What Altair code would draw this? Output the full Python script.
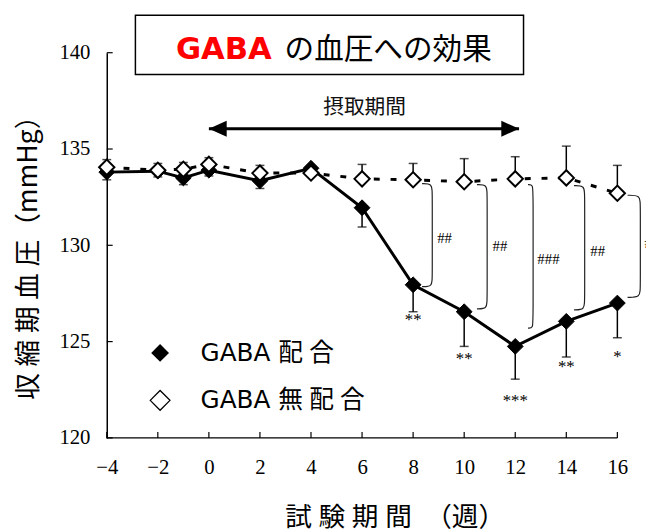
import altair as alt
import pandas as pd

# ---------------- data ----------------
weeks = [-4, -2, -1, 0, 2, 4, 6, 8, 10, 12, 14, 16]
gaba_mean = [133.8, 133.85, 133.5, 133.9, 133.35, 134.0, 131.95, 127.95, 126.55, 124.75, 126.05, 127.0]
gaba_se = [0.4, 0.3, 0.35, 0.3, 0.4, 0.3, 1.0, 1.4, 1.8, 1.7, 1.85, 1.8]
ctrl_mean = [134.05, 133.9, 133.95, 134.2, 133.75, 133.75, 133.45, 133.4, 133.3, 133.45, 133.5, 132.7]
ctrl_se = [0.4, 0.35, 0.35, 0.35, 0.4, 0.3, 0.75, 0.85, 1.2, 1.15, 1.65, 1.45]

sig_weeks = [8, 10, 12, 14, 16]
star_text = ["**", "**", "***", "**", "*"]
star_val = [126.1, 124.1, 121.9, 123.7, 124.2]
hash_text = ["##", "##", "###", "##", "##"]
hash_week = [9.23, 11.4, 13.3, 15.23, 17.35]
hash_val = [130.35, 129.95, 129.3, 129.7, 130.1]
br_start = [8.35, 10.5, 12.5, 14.3, 16.4]
br_vert = [8.75, 10.9, 12.7, 14.72, 16.9]
br_top = [133.2, 133.15, 133.15, 133.1, 132.6]
br_bottom = [127.85, 126.7, 125.7, 126.65, 127.3]

x_ticks = [-4, -2, 0, 2, 4, 6, 8, 10, 12, 14, 16]
y_ticks = [120, 125, 130, 135, 140]
intake_weeks = [0, 12.15]
intake_level = 136.05
intake_label_week = 6.1
intake_label_level = 137.1

title_main = "GABA"
title_rest = "の血圧への効果"
intake_label = "摂取期間"
legend_labels = ["GABA 配\u2005合", "GABA 無\u2005配\u2005合"]
y_title = "収\u2005縮\u2005期\u2005血\u2005圧（mmHg）"
x_title = "試\u2005験\u2005期\u2005間　（週）"

# ---------------- layout ----------------
PLOT_W, PLOT_H = 546, 390
X_MIN, X_AXIS_MAX = -4, 16
Y_MIN, Y_MAX = 120, 140
px_per_week = 517 / 20
x_dom_max = X_MIN + PLOT_W / px_per_week
px_per_unit = PLOT_H / (Y_MAX - Y_MIN)
TICK = 6

SERIF = "Liberation Serif"
SANS = "DejaVu Sans, Noto Sans CJK JP"
CJK = "Noto Sans CJK JP"

xs = alt.Scale(domain=[X_MIN, x_dom_max], nice=False, zero=False)
ys = alt.Scale(domain=[Y_MIN, Y_MAX], nice=False, zero=False)

X = alt.X("week:Q", scale=xs,
          axis=alt.Axis(values=x_ticks, title=None, domain=False, ticks=False, tickSize=0,
                        grid=False, labelFont=SERIF, labelFontSize=21, labelColor="black",
                        labelPadding=19, labelFlush=False, labelOverlap=False))
Y = alt.Y("val:Q", scale=ys,
          axis=alt.Axis(values=y_ticks, title=None, domain=True, domainColor="black",
                        domainWidth=1.5, ticks=False, tickSize=0, grid=False,
                        labelFont=SERIF, labelFontSize=21, labelColor="black",
                        labelPadding=17, labelFlush=False, labelOverlap=False))
X2 = alt.X2("week2:Q")
Y2 = alt.Y2("val2:Q")

g = pd.DataFrame({"week": weeks, "val": gaba_mean,
                  "val2": [m - s for m, s in zip(gaba_mean, gaba_se)]})
c = pd.DataFrame({"week": weeks, "val": ctrl_mean,
                  "val2": [m + s for m, s in zip(ctrl_mean, ctrl_se)]})
g_caps = pd.DataFrame({"week": weeks, "val": [m - s for m, s in zip(gaba_mean, gaba_se)]})
c_caps = pd.DataFrame({"week": weeks, "val": [m + s for m, s in zip(ctrl_mean, ctrl_se)]})

# error bars
g_stem = alt.Chart(g).mark_rule(color="black", strokeWidth=1.5).encode(x=X, y=Y, y2=Y2)
g_cap = alt.Chart(g_caps).mark_tick(orient="horizontal", color="black", size=9, thickness=1.5).encode(x=X, y=Y)
c_stem = alt.Chart(c).mark_rule(color="black", strokeWidth=1.5).encode(x=X, y=Y, y2=Y2)
c_cap = alt.Chart(c_caps).mark_tick(orient="horizontal", color="black", size=9, thickness=1.5).encode(x=X, y=Y)

# lines
g_line = alt.Chart(g).mark_line(color="black", strokeWidth=3).encode(x=X, y=Y)
c_line = alt.Chart(c).mark_line(color="black", strokeWidth=3, strokeDash=[6, 11]).encode(x=X, y=Y)

# points
g_pts = alt.Chart(g).mark_point(shape="diamond", filled=True, fill="black", stroke="black",
                                strokeWidth=1, size=256, opacity=1).encode(x=X, y=Y)
c_pts = alt.Chart(c).mark_point(shape="diamond", filled=True, fill="white", stroke="black",
                                strokeWidth=2, size=240, opacity=1).encode(x=X, y=Y)

# brackets
br_rows = []
for i, w in enumerate(sig_weeks):
    x0, xv, t, b = br_start[i], br_vert[i], br_top[i], br_bottom[i]
    pts = [(x0, t), (xv, t), (xv, t - 0.5), (xv, b + 0.5), (xv, b), (x0, b)]
    for k, (px, py) in enumerate(pts):
        br_rows.append({"grp": w, "order": k, "week": px, "val": py})
br = pd.DataFrame(br_rows)
brackets = alt.Chart(br).mark_line(color="#222222", strokeWidth=1.2, interpolate="basis").encode(
    x=X, y=Y, detail="grp:N", order="order:Q")

stars = alt.Chart(pd.DataFrame({"week": sig_weeks, "val": star_val, "t": star_text})).mark_text(
    font=SERIF, fontSize=17, color="black", baseline="middle", align="center").encode(
    x=X, y=Y, text="t:N")
hashes = alt.Chart(pd.DataFrame({"week": hash_week, "val": hash_val, "t": hash_text})).mark_text(
    font=SERIF, fontSize=15, color="black", baseline="middle", align="center").encode(
    x=X, y=Y, text="t:N")

# intake period arrow
arrow_df = pd.DataFrame({"week": [intake_weeks[0]], "week2": [intake_weeks[1]], "val": [intake_level]})
arrow = alt.Chart(arrow_df).mark_rule(color="black", strokeWidth=3).encode(x=X, x2=X2, y=Y)
head_l = alt.Chart(pd.DataFrame({"week": [intake_weeks[0]], "val": [intake_level]})).mark_point(
    shape="M0,0L2,-0.9L2,0.9Z", filled=True, fill="black", strokeWidth=0, size=324, opacity=1).encode(x=X, y=Y)
head_r = alt.Chart(pd.DataFrame({"week": [intake_weeks[1]], "val": [intake_level]})).mark_point(
    shape="M0,0L-2,-0.9L-2,0.9Z", filled=True, fill="black", strokeWidth=0, size=324, opacity=1).encode(x=X, y=Y)
intake_txt = alt.Chart(pd.DataFrame({"week": [intake_label_week], "val": [intake_label_level], "t": [intake_label]})).mark_text(
    font=CJK, fontSize=21, color="#111111", baseline="middle", align="center").encode(x=X, y=Y, text="t:N")

# axis line and inward ticks
one = pd.DataFrame({"k": [0]})
xaxis_line = alt.Chart(pd.DataFrame({"week": [X_MIN], "week2": [X_AXIS_MAX], "val": [Y_MIN]})).mark_rule(
    color="black", strokeWidth=1.5).encode(x=X, x2=X2, y=Y)
xt = pd.DataFrame({"week": x_ticks, "val": [Y_MIN] * len(x_ticks),
                   "val2": [Y_MIN + TICK / px_per_unit] * len(x_ticks)})
xticks = alt.Chart(xt).mark_rule(color="black", strokeWidth=1.2).encode(x=X, y=Y, y2=Y2)
yt = pd.DataFrame({"week": [X_MIN] * len(y_ticks), "week2": [X_MIN + TICK / px_per_week] * len(y_ticks),
                   "val": y_ticks})
yticks = alt.Chart(yt).mark_rule(color="black", strokeWidth=1.2).encode(x=X, x2=X2, y=Y)

# axis titles
ytitle = alt.Chart(pd.DataFrame({"t": [y_title]})).mark_text(
    font=CJK, fontSize=27, angle=270, color="black", align="center", baseline="middle").encode(
    x=alt.value(-79), y=alt.value(201), text="t:N")
xtitle = alt.Chart(pd.DataFrame({"t": [x_title]})).mark_text(
    font=CJK, fontSize=27, color="black", align="center", baseline="middle").encode(
    x=alt.value(292), y=alt.value(471), text="t:N")

# title box
tbox = alt.Chart(one).mark_rect(fill="white", stroke="black", strokeWidth=1.5).encode(
    x=alt.value(29), x2=alt.value(422), y=alt.value(-38), y2=alt.value(22))
t1 = alt.Chart(pd.DataFrame({"t": [title_main]})).mark_text(
    font="DejaVu Sans", fontSize=31, fontWeight="bold", color="#ff0000", align="left", baseline="middle").encode(
    x=alt.value(70), y=alt.value(-3), text="t:N")
t2 = alt.Chart(pd.DataFrame({"t": [title_rest]})).mark_text(
    font=CJK, fontSize=30, color="black", align="left", baseline="middle").encode(
    x=alt.value(180), y=alt.value(-3), text="t:N")

# legend
leg_sym1 = alt.Chart(one).mark_point(shape="diamond", filled=True, fill="black", strokeWidth=0, size=324, opacity=1).encode(
    x=alt.value(54), y=alt.value(304))
leg_sym2 = alt.Chart(one).mark_point(shape="diamond", filled=True, fill="white", stroke="black", strokeWidth=1.3, size=400, opacity=1).encode(
    x=alt.value(54), y=alt.value(352))
leg_t1 = alt.Chart(pd.DataFrame({"t": [legend_labels[0]]})).mark_text(
    font=SANS, fontSize=25, color="black", align="left", baseline="middle").encode(
    x=alt.value(95), y=alt.value(304), text="t:N")
leg_t2 = alt.Chart(pd.DataFrame({"t": [legend_labels[1]]})).mark_text(
    font=SANS, fontSize=25, color="black", align="left", baseline="middle").encode(
    x=alt.value(95), y=alt.value(352), text="t:N")

chart = alt.layer(
    g_stem, g_cap, c_stem, c_cap, g_line, c_line, g_pts, c_pts,
    brackets, stars, hashes, arrow, head_l, head_r, intake_txt,
    xaxis_line, xticks, yticks, ytitle, xtitle, tbox, t1, t2,
    leg_sym1, leg_sym2, leg_t1, leg_t2,
).properties(
    width=PLOT_W, height=PLOT_H,
    autosize=alt.AutoSizeParams(type="none"),
    padding={"left": 100, "top": 42, "right": 0, "bottom": 90},
    background="white",
).configure_view(stroke=None)

chart.save("out.html", embed_options={"renderer": "svg", "actions": False})
